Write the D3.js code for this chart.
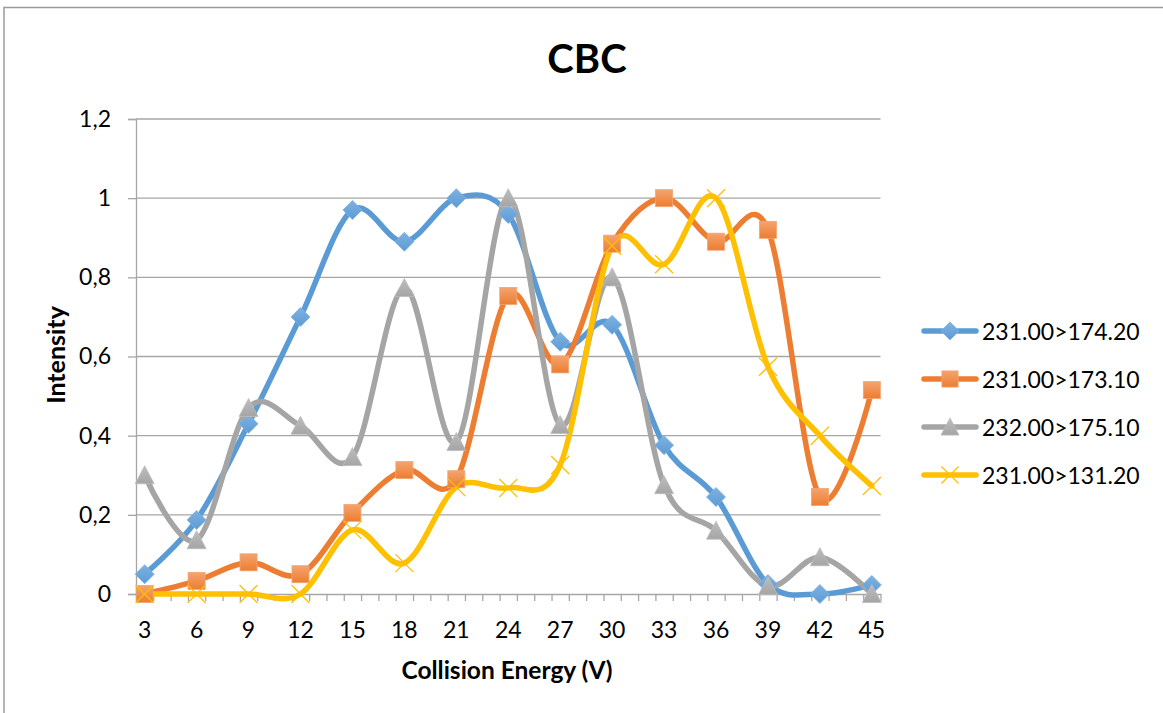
<!DOCTYPE html>
<html>
<head>
<meta charset="utf-8">
<script src="https://cdn.jsdelivr.net/npm/d3@7/dist/d3.min.js"></script>
<style>
  html, body { margin: 0; padding: 0; background: #fff; }
  svg { display: block; }
  text { font-family: Lato, "Noto Sans", sans-serif; fill: #000; }
</style>
</head>
<body>
<svg id="chart" width="1163" height="713"></svg>
<script>
// Collision energy steps (V)
const energies = [3, 6, 9, 12, 15, 18, 21, 24, 27, 30, 33, 36, 39, 42, 45];

// Normalised intensity per MRM transition
const seriesNames = ["231.00>174.20", "231.00>173.10", "232.00>175.10", "231.00>131.20"];
const s174 = [0.05, 0.187, 0.43, 0.70, 0.97, 0.89, 1.0, 0.96, 0.637, 0.68, 0.376, 0.245, 0.025, 0.0, 0.023];
const s173 = [0.0, 0.033, 0.08, 0.05, 0.205, 0.313, 0.29, 0.753, 0.58, 0.885, 1.0, 0.89, 0.92, 0.245, 0.515];
const s175 = [0.30, 0.136, 0.47, 0.425, 0.346, 0.773, 0.384, 1.0, 0.427, 0.80, 0.275, 0.16, 0.02, 0.093, 0.0];
const s131 = [0.0, 0.0, 0.0, 0.0, 0.162, 0.078, 0.27, 0.268, 0.326, 0.88, 0.833, 1.0, 0.574, 0.40, 0.273];

const yTicks = [0, 0.2, 0.4, 0.6, 0.8, 1.0, 1.2];
const yTickLabels = ["0", "0,2", "0,4", "0,6", "0,8", "1", "1,2"];

const colors = ["#5B9BD5", "#ED7D31", "#A5A5A5", "#FFC000"];
const lights = ["#7fb2e0", "#f4a46e", "#bdbdbd", "#ffd34d"];
const markers = ["diamond", "square", "triangle", "cross"];
const values = [s174, s173, s175, s131];

const svg = d3.select("#chart");

// Outer chart frame
svg.append("rect")
  .attr("x", 4).attr("y", 7.5)
  .attr("width", 1180).attr("height", 720)
  .attr("fill", "#fff")
  .attr("stroke", "#9a9a9a").attr("stroke-width", 1.5);

const plot = { left: 136, right: 880.5, top: 119, bottom: 594 };

const x = d3.scaleLinear().domain([2.5, 45.5]).range([plot.left, plot.right]);
const y = d3.scaleLinear().domain([0, 1.2]).range([plot.bottom, plot.top]);

// Gradients for marker fills
const defs = svg.append("defs");
colors.forEach((c, i) => {
  const g = defs.append("linearGradient").attr("id", "mg" + i)
    .attr("x1", 0).attr("y1", 0).attr("x2", 0).attr("y2", 1);
  g.append("stop").attr("offset", "0%").attr("stop-color", lights[i]);
  g.append("stop").attr("offset", "100%").attr("stop-color", c);
});

// Horizontal gridlines
svg.append("g")
  .selectAll("line")
  .data(yTicks.slice(1))
  .join("line")
  .attr("x1", plot.left).attr("x2", plot.right)
  .attr("y1", d => y(d)).attr("y2", d => y(d))
  .attr("stroke", "#a6a6a6").attr("stroke-width", 1.3);

// Y axis
const yAxis = d3.axisLeft(y)
  .tickValues(yTicks)
  .tickSize(8)
  .tickPadding(17)
  .tickFormat((d, i) => yTickLabels[i]);
const gy = svg.append("g").attr("transform", `translate(${plot.left},0)`).call(yAxis);
gy.select(".domain").attr("stroke", "#a6a6a6").attr("stroke-width", 1.3);
gy.selectAll(".tick line").attr("stroke", "#a6a6a6").attr("stroke-width", 1.3);
gy.selectAll(".tick text")
  .style("font-family", "Lato, 'Noto Sans', sans-serif")
  .style("font-size", "23px").attr("fill", "#000");

// X axis: tick marks at category boundaries, labels every 3 V
const boundaries = d3.range(x.domain()[0], x.domain()[1] + 0.01, 1);
const xAxis = d3.axisBottom(x)
  .tickValues(boundaries)
  .tickSize(7)
  .tickSizeOuter(0)
  .tickFormat("");
const gx = svg.append("g").attr("transform", `translate(0,${plot.bottom})`).call(xAxis);
gx.select(".domain").attr("stroke", "#a6a6a6").attr("stroke-width", 1.3);
gx.selectAll(".tick line").attr("stroke", "#a6a6a6").attr("stroke-width", 1.3);

svg.append("g")
  .selectAll("text")
  .data(energies)
  .join("text")
  .attr("x", d => x(d))
  .attr("y", 637.5)
  .attr("text-anchor", "middle")
  .style("font-size", "23px")
  .text(d => d);

// Smoothed series lines
const line = d3.line()
  .x((d, i) => x(energies[i]))
  .y(d => y(d))
  .curve(d3.curveCardinal.tension(0));

const gLines = svg.append("g");
values.forEach((vals, i) => {
  gLines.append("path")
    .attr("d", line(vals))
    .attr("fill", "none")
    .attr("stroke", colors[i])
    .attr("stroke-width", 5.5)
    .attr("stroke-linecap", "round")
    .attr("stroke-linejoin", "round");
});

// Marker drawing
function drawMarker(g, type, cx, cy, i, scale) {
  const s = scale || 1;
  if (type === "diamond") {
    const r = 9.5 * s;
    g.append("path")
      .attr("d", `M${cx},${cy - r}L${cx + r},${cy}L${cx},${cy + r}L${cx - r},${cy}Z`)
      .attr("fill", `url(#mg${i})`).attr("stroke", lights[i]).attr("stroke-width", 0.8);
  } else if (type === "square") {
    const h = 8.5 * s;
    g.append("rect")
      .attr("x", cx - h).attr("y", cy - h)
      .attr("width", 2 * h).attr("height", 2 * h)
      .attr("fill", `url(#mg${i})`).attr("stroke", lights[i]).attr("stroke-width", 0.8);
  } else if (type === "triangle") {
    const h = 9.5 * s;
    g.append("path")
      .attr("d", `M${cx},${cy - h}L${cx + h},${cy + h * 0.9}L${cx - h},${cy + h * 0.9}Z`)
      .attr("fill", `url(#mg${i})`).attr("stroke", lights[i]).attr("stroke-width", 0.8);
  } else {
    const r = 9 * s;
    g.append("path")
      .attr("d", `M${cx - r},${cy - r}L${cx + r},${cy + r}M${cx - r},${cy + r}L${cx + r},${cy - r}`)
      .attr("stroke", colors[i]).attr("stroke-width", 1.3).attr("fill", "none");
  }
}

const gMarks = svg.append("g");
values.forEach((vals, i) => {
  vals.forEach((v, j) => drawMarker(gMarks, markers[i], x(energies[j]), y(v), i));
});

// Title
svg.append("text")
  .attr("x", 587).attr("y", 73)
  .attr("text-anchor", "middle")
  .style("font-size", "40px").style("font-weight", "bold")
  .text("CBC");

// Axis titles
svg.append("text")
  .attr("x", 507).attr("y", 679)
  .attr("text-anchor", "middle")
  .style("font-size", "24.5px").style("font-weight", "bold")
  .text("Collision Energy (V)");

svg.append("text")
  .attr("transform", "translate(65,355) rotate(-90)")
  .attr("text-anchor", "middle")
  .style("font-size", "25px").style("font-weight", "bold")
  .text("Intensity");

// Legend
const legendY = [331, 379, 427, 475];
const gLeg = svg.append("g");
seriesNames.forEach((name, i) => {
  const ly = legendY[i];
  gLeg.append("line")
    .attr("x1", 924).attr("x2", 976)
    .attr("y1", ly).attr("y2", ly)
    .attr("stroke", colors[i]).attr("stroke-width", 5.5)
    .attr("stroke-linecap", "round");
  drawMarker(gLeg, markers[i], 950, ly, i, 0.95);
  gLeg.append("text")
    .attr("x", 982).attr("y", ly + 8.5)
    .style("font-size", "23px")
    .text(name);
});
</script>
</body>
</html>
